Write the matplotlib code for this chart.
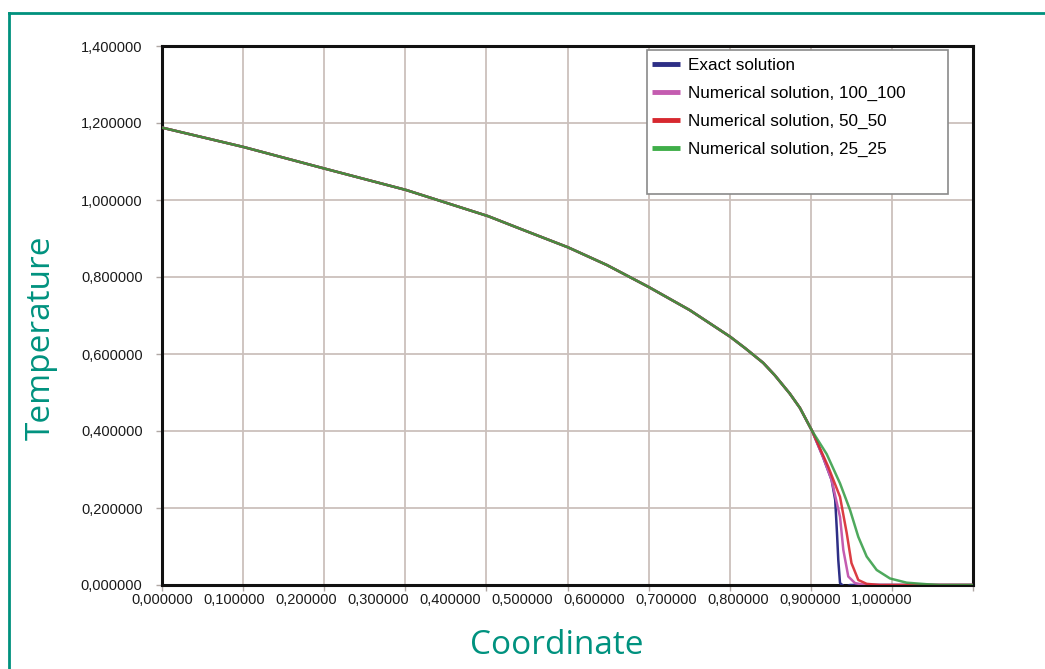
import numpy as np
import matplotlib.pyplot as plt
from matplotlib.patches import Rectangle
from matplotlib.ticker import FixedLocator, NullFormatter

# temperature profile shared by all runs before the front
x_common = [0.0, 0.1125, 0.225, 0.339, 0.453, 0.502, 0.564, 0.618, 0.675,
            0.733, 0.789, 0.810, 0.835, 0.851, 0.872, 0.886, 0.903]
t_common = [1.188, 1.138, 1.082, 1.026, 0.958, 0.922, 0.877, 0.831, 0.775,
            0.714, 0.645, 0.615, 0.577, 0.545, 0.497, 0.460, 0.400]

# behaviour near the front, per run
exact_x = [0.918, 0.930, 0.935, 0.9375, 0.9393, 0.9417, 0.9486, 0.9556, 1.1264]
exact_t = [0.333, 0.273, 0.221, 0.135, 0.065, 0.005, -0.006, 0.0, 0.0]

n100_x = [0.918, 0.930, 0.9417, 0.9463, 0.9532, 0.9625, 0.976, 1.1264]
n100_t = [0.333, 0.273, 0.177, 0.091, 0.022, 0.005, 0.0, 0.0]

n50_x = [0.9254, 0.9417, 0.951, 0.9576, 0.9671, 0.9787, 0.997, 1.1264]
n50_t = [0.307, 0.229, 0.135, 0.057, 0.013, 0.003, 0.0, 0.0]

n25_x = [0.9232, 0.9417, 0.9556, 0.9671, 0.9787, 0.9926, 1.0111, 1.0343,
         1.0621, 1.0806, 1.1264]
n25_t = [0.340, 0.264, 0.195, 0.125, 0.074, 0.039, 0.017, 0.006, 0.002,
         0.0, 0.0]

labels = ["Exact solution", "Numerical solution, 100_100",
          "Numerical solution, 50_50", "Numerical solution, 25_25"]
colors = ["#2e2f86", "#c45cb0", "#d7282f", "#2f9a40"]
alphas = [1.0, 1.0, 0.9, 0.85]
legend_colors = ["#2e2f86", "#c45cb0", "#d7282f", "#3fae49"]

x_labels = np.round(np.arange(0, 1.01, 0.1), 1)
y_labels = np.round(np.arange(0, 1.41, 0.2), 1)
XMAX = 1.1264

tick_font = ["Liberation Sans", "DejaVu Sans"]
teal = "#00927f"

fig = plt.figure(figsize=(10.45, 6.69), dpi=100)
ax = fig.add_axes([162 / 1045, 84 / 669, 811 / 1045, 539 / 669])

series = [(exact_x, exact_t), (n100_x, n100_t), (n50_x, n50_t), (n25_x, n25_t)]
for (tx, tt), lab, col, a in zip(series, labels, colors, alphas):
    ax.plot(x_common + tx, t_common + tt, color=col, alpha=a, lw=1.8, label=lab,
            solid_capstyle="butt", solid_joinstyle="round", zorder=3)

ax.set_xlim(0, XMAX)
ax.set_ylim(0, 1.4)

# gridlines split the axis in ten equal parts, labels sit at round values
ax.xaxis.remove_overlapping_locs = False
ax.xaxis.set_major_locator(FixedLocator(np.linspace(0, XMAX, 11)))
ax.xaxis.set_major_formatter(NullFormatter())
ax.xaxis.set_minor_locator(FixedLocator(x_labels))
ax.set_xticklabels([f"{v:.6f}".replace(".", ",") for v in x_labels], minor=True)
ax.tick_params(axis="x", which="major", length=4, color="#b0a8a4", width=1)
ax.tick_params(axis="x", which="minor", length=0, pad=6, labelsize=10.5)

ax.set_yticks(y_labels)
ax.set_yticklabels([f"{v:.6f}".replace(".", ",") for v in y_labels])
ax.tick_params(axis="y", length=4, color="#b0a8a4", width=1, pad=10, labelsize=10.5)

for lab in ax.get_xticklabels(minor=True) + ax.get_yticklabels():
    lab.set_fontfamily(tick_font)
    lab.set_color("#1a1a1a")

ax.grid(True, which="major", color="#cbc0bc", lw=1.3, zorder=0)
for sp in ax.spines.values():
    sp.set_linewidth(2.2)
    sp.set_color("#111111")

# legend frame drawn by hand to leave the empty band at the bottom
ax.add_patch(Rectangle((0.598, 0.7254), 0.371, 0.2672, transform=ax.transAxes,
                       facecolor="white", edgecolor="#8a8a8a", lw=1.2, zorder=4))
leg = ax.legend(loc="upper left", bbox_to_anchor=(0.604, 0.977), frameon=False,
                handlelength=1.65, handletextpad=0.45, labelspacing=0.75,
                borderpad=0, borderaxespad=0,
                prop={"family": tick_font, "size": 12.3})
leg.set_zorder(5)
for h, c in zip(leg.get_lines(), legend_colors):
    h.set_linewidth(3.5)
    h.set_alpha(1.0)
    h.set_color(c)

fig.text(557 / 1045, 1 - 645 / 669, "Coordinate", color=teal, fontsize=24,
         family="Open Sans", ha="center", va="center")
fig.text(41 / 1045, 1 - 338 / 669, "Temperature", color=teal, fontsize=24,
         family="Open Sans", ha="center", va="center", rotation=90)

# teal frame around the figure (open on the right)
fig.add_artist(plt.Line2D([9 / 1045, 9 / 1045], [0, 1 - 12.5 / 669],
                          transform=fig.transFigure, color="#00917d", lw=2))
fig.add_artist(plt.Line2D([9 / 1045, 1], [1 - 12.5 / 669, 1 - 12.5 / 669],
                          transform=fig.transFigure, color="#00917d", lw=2))

fig.savefig("out.png", dpi=100)
